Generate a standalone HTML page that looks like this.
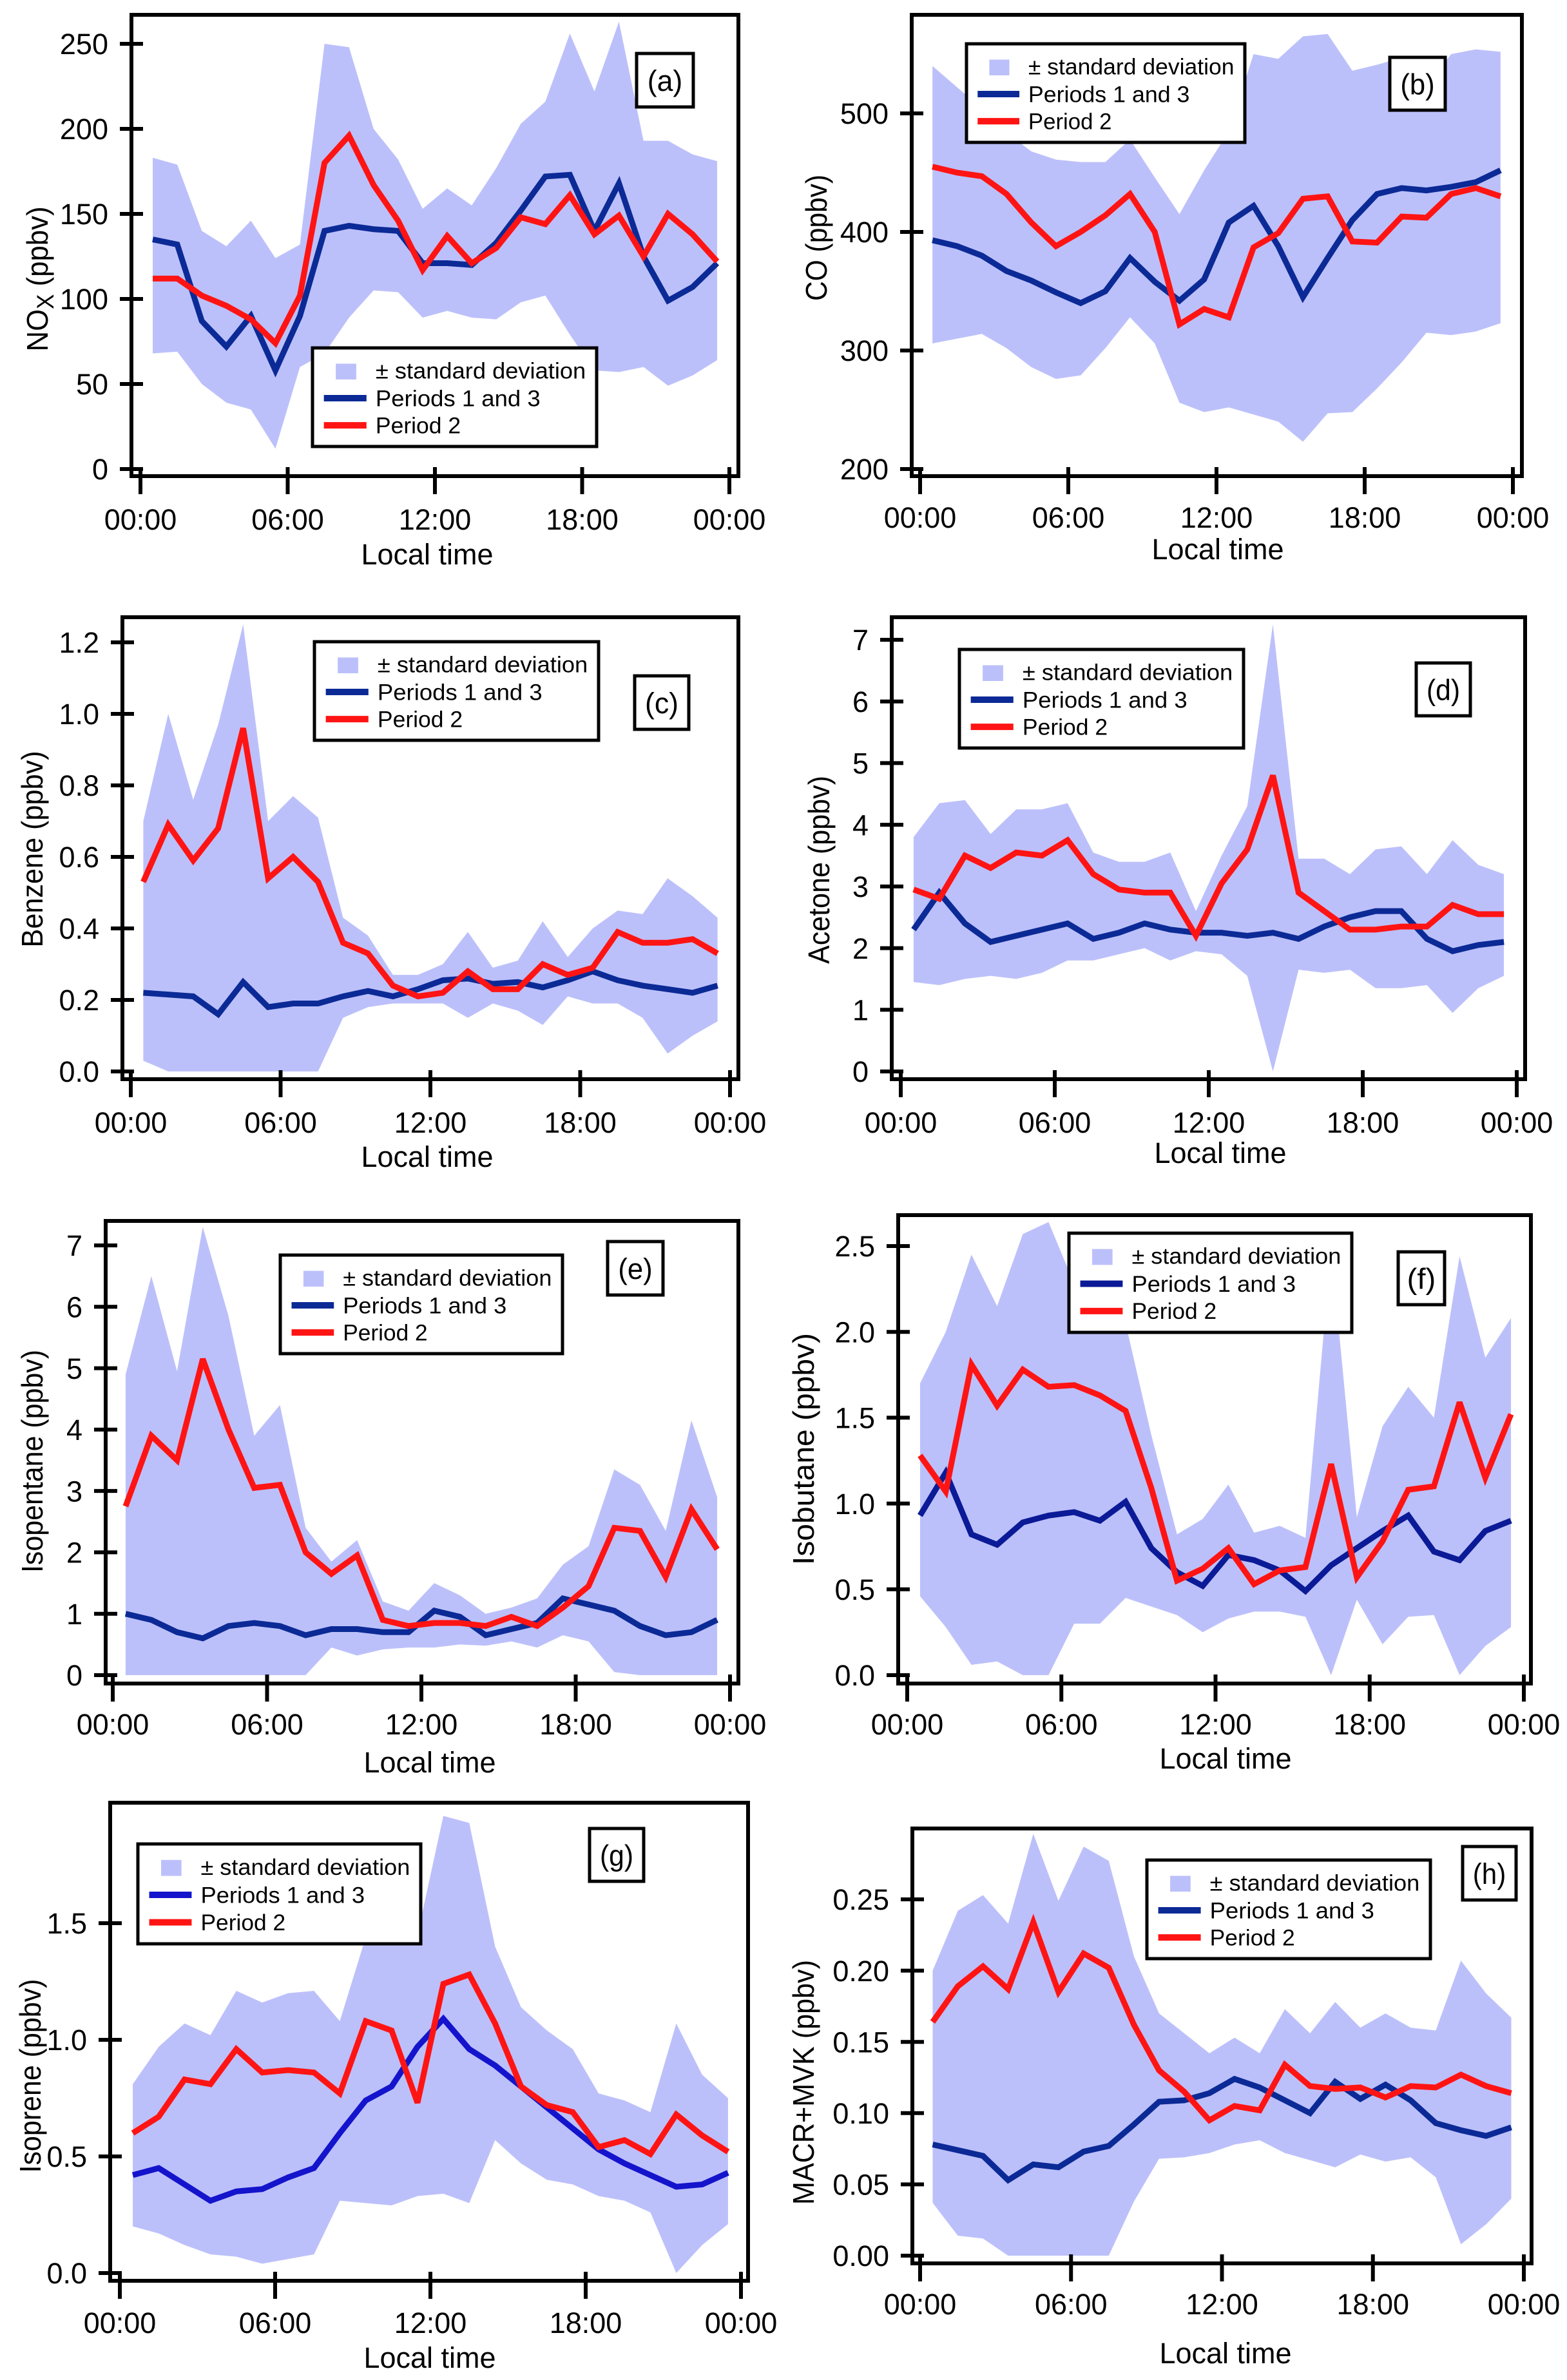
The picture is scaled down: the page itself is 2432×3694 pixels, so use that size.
<!DOCTYPE html>
<html><head><meta charset="utf-8"><title>Diurnal profiles</title>
<style>html,body{margin:0;padding:0;background:#fff;}svg{display:block;font-family:"Liberation Sans",sans-serif;}</style>
</head><body>
<svg id="fig" xmlns="http://www.w3.org/2000/svg" width="2432" height="3694" viewBox="0 0 2432 3694"></svg>
<script>
const hours = [0.5,1.5,2.5,3.5,4.5,5.5,6.5,7.5,8.5,9.5,10.5,11.5,12.5,13.5,14.5,15.5,16.5,17.5,18.5,19.5,20.5,21.5,22.5,23.5];
const xTickHours = [0,6,12,18,24];
const xTickLabels = ["00:00","06:00","12:00","18:00","00:00"];

const noxP13 = [135,132,87,72,90,58,90,140,143,141,140,121,121,120,133,152,172,173,140,168,125,99,107,121];
const noxP2 = [112,112,102,96,88,74,102,180,196,167,146,117,137,121,130,148,144,161,138,149,125,150,138,122];
const noxUpper = [183,179,140,131,146,124,132,250,248,200,182,153,165,155,177,203,216,256,222,263,193,193,185,181];
const noxLower = [68,69,50,39,35,12,60,68,89,105,104,89,93,89,88,98,102,79,58,57,60,49,55,64];
const noxTicks = [0,50,100,150,200,250];
const noxTickLabels = ["0","50","100","150","200","250"];

const coP13 = [393,388,380,367,359,349,340,350,378,358,342,360,408,422,388,345,378,410,432,437,435,438,442,452];
const coP2 = [455,450,447,432,408,388,400,414,432,400,322,335,328,387,399,428,430,392,391,413,412,432,437,430];
const coUpper = [540,522,504,484,468,461,459,459,478,446,415,452,485,550,546,565,567,536,541,547,522,550,554,552];
const coLower = [306,310,314,302,286,276,279,302,328,306,256,248,252,246,240,223,247,248,268,290,315,313,316,323];
const coTicks = [200,300,400,500];
const coTickLabels = ["200","300","400","500"];

const bzP13 = [0.22,0.215,0.21,0.16,0.25,0.18,0.19,0.19,0.21,0.225,0.21,0.23,0.255,0.26,0.245,0.25,0.235,0.255,0.28,0.255,0.24,0.23,0.22,0.24];
const bzP2 = [0.53,0.69,0.59,0.68,0.96,0.54,0.60,0.53,0.36,0.33,0.24,0.21,0.22,0.28,0.23,0.23,0.30,0.27,0.29,0.39,0.36,0.36,0.37,0.33];
const bzUpper = [0.70,1.00,0.76,0.97,1.25,0.70,0.77,0.71,0.43,0.38,0.27,0.27,0.30,0.39,0.29,0.31,0.42,0.32,0.40,0.45,0.44,0.54,0.49,0.43];
const bzLower = [0.03,0,0,0,0,0,0,0,0.15,0.18,0.19,0.19,0.19,0.15,0.19,0.17,0.13,0.21,0.19,0.19,0.15,0.05,0.10,0.14];
const bzTicks = [0,0.2,0.4,0.6,0.8,1.0,1.2];
const bzTickLabels = ["0.0","0.2","0.4","0.6","0.8","1.0","1.2"];

const acP13 = [2.3,2.9,2.4,2.1,2.2,2.3,2.4,2.15,2.25,2.4,2.3,2.25,2.25,2.2,2.25,2.15,2.35,2.5,2.6,2.6,2.15,1.95,2.05,2.1];
const acP2 = [2.95,2.8,3.5,3.3,3.55,3.5,3.75,3.2,2.95,2.9,2.9,2.2,3.05,3.6,4.8,2.9,2.6,2.3,2.3,2.35,2.35,2.7,2.55,2.55];
const acUpper = [3.8,4.35,4.4,3.85,4.25,4.25,4.35,3.55,3.4,3.4,3.55,2.6,3.5,4.3,7.25,3.45,3.45,3.2,3.6,3.65,3.2,3.75,3.35,3.2];
const acLower = [1.45,1.4,1.5,1.55,1.5,1.6,1.8,1.8,1.9,2.0,1.8,1.95,1.9,1.55,0,1.65,1.6,1.65,1.35,1.35,1.4,0.95,1.35,1.55];
const acTicks = [0,1,2,3,4,5,6,7];
const acTickLabels = ["0","1","2","3","4","5","6","7"];

const ipP13 = [1.0,0.9,0.7,0.6,0.8,0.85,0.8,0.65,0.75,0.75,0.7,0.7,1.05,0.95,0.65,0.75,0.85,1.25,1.15,1.05,0.8,0.65,0.7,0.9];
const ipP2 = [2.75,3.9,3.5,5.15,4.0,3.05,3.1,2.0,1.65,1.95,0.9,0.8,0.85,0.85,0.8,0.95,0.8,1.1,1.45,2.4,2.35,1.6,2.7,2.05];
const ipUpper = [4.9,6.5,4.95,7.3,5.85,3.9,4.4,2.4,1.85,2.2,1.2,1.05,1.5,1.3,1.0,1.1,1.25,1.8,2.1,3.35,3.1,2.35,4.15,2.9];
const ipLower = [0,0,0,0,0,0,0,0,0.45,0.32,0.42,0.45,0.45,0.5,0.48,0.55,0.45,0.65,0.55,0.05,0,0,0,0];
const ipTicks = [0,1,2,3,4,5,6,7];
const ipTickLabels = ["0","1","2","3","4","5","6","7"];

const ibP13 = [0.93,1.18,0.82,0.76,0.89,0.93,0.95,0.9,1.01,0.74,0.6,0.52,0.70,0.67,0.61,0.49,0.64,0.74,0.84,0.93,0.72,0.67,0.84,0.90];
const ibP2 = [1.28,1.07,1.81,1.57,1.78,1.68,1.69,1.63,1.54,1.09,0.55,0.62,0.74,0.53,0.61,0.63,1.23,0.57,0.78,1.08,1.10,1.59,1.15,1.52];
const ibUpper = [1.70,2.00,2.45,2.15,2.57,2.64,2.28,2.15,2.05,1.40,0.82,0.91,1.11,0.83,0.87,0.80,2.48,0.92,1.45,1.68,1.50,2.44,1.85,2.08];
const ibLower = [0.46,0.28,0.06,0.08,0,0,0.30,0.30,0.45,0.40,0.35,0.25,0.33,0.37,0.37,0.34,0,0.44,0.18,0.34,0.35,0,0.17,0.28];
const ibTicks = [0,0.5,1.0,1.5,2.0,2.5];
const ibTickLabels = ["0.0","0.5","1.0","1.5","2.0","2.5"];

const isoP13 = [0.42,0.45,0.38,0.31,0.35,0.36,0.41,0.45,0.60,0.74,0.80,0.97,1.09,0.96,0.89,0.80,0.71,0.62,0.53,0.47,0.42,0.37,0.38,0.43];
const isoP2 = [0.60,0.67,0.83,0.81,0.96,0.86,0.87,0.86,0.77,1.08,1.04,0.73,1.24,1.28,1.07,0.80,0.72,0.69,0.54,0.57,0.51,0.68,0.59,0.52];
const isoUpper = [0.81,0.97,1.07,1.02,1.21,1.16,1.20,1.21,1.08,1.44,1.57,1.45,1.96,1.93,1.40,1.14,1.04,0.96,0.77,0.74,0.69,1.07,0.85,0.75];
const isoLower = [0.20,0.17,0.12,0.08,0.07,0.04,0.06,0.08,0.31,0.30,0.29,0.33,0.34,0.30,0.57,0.47,0.40,0.38,0.33,0.31,0.26,0,0.12,0.21];
const isoTicks = [0,0.5,1.0,1.5];
const isoTickLabels = ["0.0","0.5","1.0","1.5"];

const mvP13 = [0.078,0.074,0.070,0.053,0.064,0.062,0.073,0.077,0.092,0.108,0.109,0.114,0.124,0.118,0.109,0.100,0.122,0.110,0.120,0.109,0.093,0.088,0.084,0.090];
const mvP2 = [0.164,0.189,0.203,0.187,0.234,0.185,0.212,0.202,0.162,0.130,0.115,0.095,0.105,0.102,0.134,0.119,0.117,0.118,0.111,0.119,0.118,0.127,0.119,0.114];
const mvUpper = [0.20,0.242,0.253,0.233,0.296,0.249,0.287,0.277,0.210,0.170,0.156,0.142,0.153,0.142,0.173,0.156,0.178,0.160,0.170,0.160,0.158,0.207,0.184,0.167];
const mvLower = [0.037,0.014,0.012,0,0,0,0,0,0.038,0.068,0.069,0.072,0.078,0.081,0.072,0.067,0.062,0.071,0.066,0.069,0.055,0.008,0.022,0.040];
const mvTicks = [0,0.05,0.10,0.15,0.20,0.25];
const mvTickLabels = ["0.00","0.05","0.10","0.15","0.20","0.25"];

const NS = "http://www.w3.org/2000/svg";
const svg = document.getElementById('fig');
const BAND = "#bcc0fa", RED = "#ff1414";

function mk(tag, attrs, parent, name) {
  const el = document.createElementNS(NS, tag);
  for (const k in attrs) el.setAttribute(k, attrs[k]);
  
  
  parent.appendChild(el);
  return el;
}
function txt(parent, name, s, x, y, size, anchor) {
  const t = mk('text', {x: x, y: y, 'font-size': size, 'text-anchor': anchor || 'middle', fill: '#000'}, parent, name);
  t.textContent = s;
  return t;
}

const panels = [
 {id:'a', frame:[204,23,1146,739], x0:218, x24:1132, v0:0, p0:728, v1:250, p1:68, up:noxUpper, lo:noxLower, s1:noxP13, s2:noxP2, ticks:noxTicks, tl:noxTickLabels, leg:[485,540,441,153], lab:[988,83,88,83], yt:{x:58, cy:433, len:225}, title:'NOx', tb:822, lb:876, lcx:663, blue:'#0b2a96'},
 {id:'b', frame:[1415,23,2362,739], x0:1428, x24:2348, v0:200, p0:728, v1:500, p1:176, up:coUpper, lo:coLower, s1:coP13, s2:coP2, ticks:coTicks, tl:coTickLabels, leg:[1500,68,432,153], lab:[2157,89,86,82], yt:{x:1267, cy:369, len:196}, title:'CO (ppbv)', tb:819, lb:868, lcx:1890, blue:'#0b2a96'},
 {id:'c', frame:[190,958,1146,1675], x0:203, x24:1133, v0:0, p0:1663, v1:1.2, p1:997, up:bzUpper, lo:bzLower, s1:bzP13, s2:bzP2, ticks:bzTicks, tl:bzTickLabels, leg:[488,996,441,153], lab:[985,1049,84,83], yt:{x:50, cy:1318, len:305}, title:'Benzene (ppbv)', tb:1758, lb:1811, lcx:663, blue:'#0b2a96'},
 {id:'d', frame:[1384,958,2367,1675], x0:1398, x24:2354, v0:0, p0:1663, v1:7, p1:993, up:acUpper, lo:acLower, s1:acP13, s2:acP2, ticks:acTicks, tl:acTickLabels, leg:[1489,1008,441,153], lab:[2198,1029,84,82], yt:{x:1271, cy:1350, len:292}, title:'Acetone (ppbv)', tb:1758, lb:1805, lcx:1894, blue:'#0b2a96'},
 {id:'e', frame:[164,1895,1146,2613], x0:175, x24:1133, v0:0, p0:2600, v1:7, p1:1933, up:ipUpper, lo:ipLower, s1:ipP13, s2:ipP2, ticks:ipTicks, tl:ipTickLabels, leg:[435,1948,438,153], lab:[943,1927,86,83], yt:{x:50, cy:2268, len:346}, title:'Isopentane (ppbv)', tb:2692, lb:2751, lcx:667, blue:'#0b2a96'},
 {id:'f', frame:[1394,1886,2376,2613], x0:1408, x24:2365, v0:0, p0:2600, v1:2.5, p1:1934, up:ibUpper, lo:ibLower, s1:ibP13, s2:ibP2, ticks:ibTicks, tl:ibTickLabels, leg:[1659,1914,439,154], lab:[2170,1943,72,82], yt:{x:1247, cy:2249, len:360}, title:'Isobutane (ppbv)', tb:2692, lb:2745, lcx:1902, blue:'#0b1a96'},
 {id:'g', frame:[171,2798,1161,3540], x0:186, x24:1150, v0:0, p0:3528, v1:1.5, p1:2985, up:isoUpper, lo:isoLower, s1:isoP13, s2:isoP2, ticks:isoTicks, tl:isoTickLabels, leg:[214,2862,439,155], lab:[915,2838,84,82], yt:{x:47, cy:3222, len:301}, title:'Isoprene (ppbv)', tb:3621, lb:3675, lcx:667, blue:'#1414cc'},
 {id:'h', frame:[1416,2838,2377,3513], x0:1428, x24:2365, v0:0, p0:3501, v1:0.25, p1:2948, up:mvUpper, lo:mvLower, s1:mvP13, s2:mvP2, ticks:mvTicks, tl:mvTickLabels, leg:[1780,2887,440,153], lab:[2270,2866,83,83], yt:{x:1247, cy:3232, len:380}, title:'MACR+MVK (ppbv)', tb:3592, lb:3668, lcx:1902, blue:'#0b2a96'}
];

panels.forEach(P => {
  const g = mk('g', {}, svg, 'panel-' + P.id);
  const xs = h => P.x0 + (P.x24 - P.x0) * h / 24;
  const ys = v => P.p0 - (v - P.v0) * (P.p0 - P.p1) / (P.v1 - P.v0);
  const lw = 9;
  const pts = hours.map((h,i) => xs(h) + ',' + ys(P.up[i]));
  const ptsLo = hours.map((h,i) => xs(h) + ',' + ys(P.lo[i])).reverse();
  mk('polygon', {points: pts.concat(ptsLo).join(' '), fill: BAND}, g, 'std-dev-band');
  mk('polyline', {points: hours.map((h,i) => xs(h) + ',' + ys(P.s1[i])).join(' '), fill:'none', stroke:P.blue, 'stroke-width':lw, 'stroke-linejoin':'miter', 'stroke-miterlimit':3}, g, 'periods-1-and-3-line');
  mk('polyline', {points: hours.map((h,i) => xs(h) + ',' + ys(P.s2[i])).join(' '), fill:'none', stroke:RED, 'stroke-width':lw, 'stroke-linejoin':'miter', 'stroke-miterlimit':3}, g, 'period-2-line');
  const [L,T,R,B] = P.frame;
  mk('rect', {x:L, y:T, width:R-L, height:B-T, fill:'none', stroke:'#000', 'stroke-width':6}, g, 'plot-frame');
  const tf = 45;
  P.ticks.forEach((v,i) => {
    const y = ys(v);
    mk('line', {x1:L-18, x2:L+18, y1:y, y2:y, stroke:'#000', 'stroke-width':6}, g, 'y-tick');
    txt(g, 'y-tick-label', P.tl[i], L-36, y + tf*0.36, tf, 'end');
  });
  xTickHours.forEach((h,i) => {
    const x = xs(h);
    mk('line', {x1:x, x2:x, y1:B-14, y2:B+28, stroke:'#000', 'stroke-width':6}, g, 'x-tick');
    txt(g, 'x-tick-label', xTickLabels[i], x, P.tb, tf, 'middle');
  });
  txt(g, 'x-axis-title', 'Local time', P.lcx, P.lb, 45, 'middle');
  const yf = 46;
  const yt = mk('text', {transform:`translate(${P.yt.x + yf*0.35},${P.yt.cy}) rotate(-90)`, 'font-size':yf, 'text-anchor':'middle', textLength:P.yt.len, lengthAdjust:'spacingAndGlyphs'}, g, 'y-axis-title');
  if (P.title === 'NOx') {
    yt.appendChild(document.createTextNode('NO'));
    const sub = document.createElementNS(NS,'tspan');
    sub.setAttribute('baseline-shift','-25%');
    sub.setAttribute('font-size', yf*0.8);
    sub.textContent = 'X';
    yt.appendChild(sub);
    const rest = document.createElementNS(NS,'tspan');
    rest.setAttribute('baseline-shift','0');
    rest.textContent = ' (ppbv)';
    yt.appendChild(rest);
  } else {
    yt.textContent = P.title;
  }
  const [lx,ly,lwd,lh] = P.leg;
  const lg = mk('g', {}, g, 'legend');
  mk('rect', {x:lx, y:ly, width:lwd, height:lh, fill:'#fff', stroke:'#000', 'stroke-width':5}, lg, 'legend-box');
  const fs = lh * 0.23;
  mk('rect', {x:lx+lwd*0.082, y:ly+lh*0.16, width:lwd*0.072, height:lh*0.16, fill:BAND}, lg, 'legend-band-swatch');
  mk('line', {x1:lx+lwd*0.04, x2:lx+lwd*0.19, y1:ly+lh*0.51, y2:ly+lh*0.51, stroke:P.blue, 'stroke-width':10}, lg, 'legend-blue-swatch');
  mk('line', {x1:lx+lwd*0.04, x2:lx+lwd*0.19, y1:ly+lh*0.785, y2:ly+lh*0.785, stroke:RED, 'stroke-width':10}, lg, 'legend-red-swatch');
  const labels = [['± standard deviation',0.31,0.74],['Periods 1 and 3',0.59,0.58],['Period 2',0.865,0.30]];
  labels.forEach(([s,f,wf]) => {
    const t = mk('text', {x:lx+lwd*0.222, y:ly+lh*f, 'font-size':fs, textLength:lwd*wf, lengthAdjust:'spacingAndGlyphs'}, lg, 'legend-entry');
    t.textContent = s;
  });
  const [bx,by,bw,bh] = P.lab;
  mk('rect', {x:bx, y:by, width:bw, height:bh, fill:'#fff', stroke:'#000', 'stroke-width':5}, g, 'panel-label-box');
  const pl = mk('text', {x:bx+bw/2, y:by+bh*0.7, 'font-size':bh*0.55, 'text-anchor':'middle', textLength:bw*0.62, lengthAdjust:'spacingAndGlyphs'}, g, 'panel-label');
  pl.textContent = '(' + P.id + ')';
});
</script>
</body></html>
